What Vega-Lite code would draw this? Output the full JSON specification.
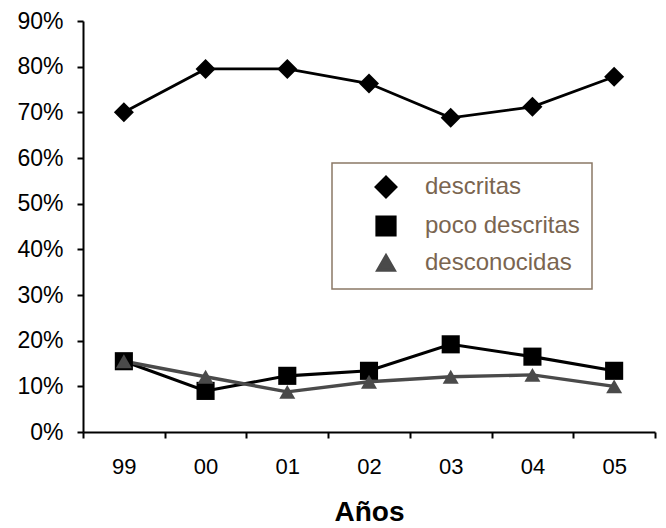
{
  "$schema": "https://vega.github.io/schema/vega-lite/v6.json",
  "width": 572,
  "height": 411,
  "autosize": {"type": "none"},
  "padding": {"left": 83, "top": 21, "right": 11, "bottom": 96},
  "background": "white",
  "config": {"view": {"stroke": null}, "font": "Liberation Sans", "axis": {"grid": false}},
  "data": {
    "values": [
      {"year": "99", "serie": "descritas", "value": 0.70},
      {"year": "00", "serie": "descritas", "value": 0.795},
      {"year": "01", "serie": "descritas", "value": 0.795},
      {"year": "02", "serie": "descritas", "value": 0.763},
      {"year": "03", "serie": "descritas", "value": 0.688},
      {"year": "04", "serie": "descritas", "value": 0.712},
      {"year": "05", "serie": "descritas", "value": 0.778},
      {"year": "99", "serie": "poco descritas", "value": 0.155},
      {"year": "00", "serie": "poco descritas", "value": 0.09},
      {"year": "01", "serie": "poco descritas", "value": 0.123},
      {"year": "02", "serie": "poco descritas", "value": 0.134},
      {"year": "03", "serie": "poco descritas", "value": 0.192},
      {"year": "04", "serie": "poco descritas", "value": 0.165},
      {"year": "05", "serie": "poco descritas", "value": 0.134},
      {"year": "99", "serie": "desconocidas", "value": 0.155},
      {"year": "00", "serie": "desconocidas", "value": 0.121},
      {"year": "01", "serie": "desconocidas", "value": 0.088},
      {"year": "02", "serie": "desconocidas", "value": 0.11},
      {"year": "03", "serie": "desconocidas", "value": 0.121},
      {"year": "04", "serie": "desconocidas", "value": 0.125},
      {"year": "05", "serie": "desconocidas", "value": 0.10}
    ]
  },
  "encoding": {
    "x": {
      "field": "year",
      "type": "ordinal",
      "bandPosition": 0.5,
      "scale": {"type": "band", "domain": ["99", "00", "01", "02", "03", "04", "05"], "paddingInner": 0, "paddingOuter": 0},
      "axis": {
        "title": "Años",
        "titleFontSize": 28,
        "titleFontWeight": "bold",
        "titleColor": "black",
        "titlePadding": 21,
        "labelAngle": 0,
        "labelFontSize": 22,
        "labelColor": "black",
        "labelPadding": 18,
        "tickBand": "extent",
        "tickSize": 6,
        "tickWidth": 2,
        "tickColor": "black",
        "domainWidth": 2,
        "domainColor": "black"
      }
    },
    "y": {
      "field": "value",
      "type": "quantitative",
      "scale": {"domain": [0, 0.9], "nice": false},
      "axis": {
        "title": null,
        "format": ".0%",
        "values": [0, 0.1, 0.2, 0.3, 0.4, 0.5, 0.6, 0.7, 0.8, 0.9],
        "labelFontSize": 23,
        "labelColor": "black",
        "labelPadding": 14,
        "tickSize": 6,
        "tickWidth": 2,
        "tickColor": "black",
        "domainWidth": 2,
        "domainColor": "black"
      }
    },
    "color": {
      "field": "serie",
      "type": "nominal",
      "scale": {"domain": ["descritas", "poco descritas", "desconocidas"], "range": ["#000000", "#000000", "#4a4a4a"]},
      "legend": {
        "orient": "none",
        "legendX": 249,
        "legendY": 142,
        "title": null,
        "padding": 12,
        "strokeColor": "#8b7865",
        "fillColor": "white",
        "labelFontSize": 24,
        "labelColor": "#7a6550",
        "symbolOffset": 30,
        "labelOffset": 27,
        "rowPadding": 7,
        "encode": {
          "legend": {"update": {"strokeWidth": {"value": 1.5}}}
        }
      }
    }
  },
  "layer": [
    {
      "mark": {"type": "line"},
      "encoding": {
        "strokeWidth": {
          "field": "serie",
          "type": "nominal",
          "scale": {"domain": ["descritas", "poco descritas", "desconocidas"], "range": [2.8, 3.4, 2.5]},
          "legend": null
        }
      }
    },
    {
      "mark": {"type": "point", "filled": true, "opacity": 1},
      "encoding": {
        "shape": {
          "field": "serie",
          "type": "nominal",
          "scale": {"domain": ["descritas", "poco descritas", "desconocidas"], "range": ["diamond", "square", "triangle-up"]},
          "legend": null
        },
        "size": {
          "field": "serie",
          "type": "nominal",
          "scale": {"domain": ["descritas", "poco descritas", "desconocidas"], "range": [400, 256, 324]},
          "legend": null
        }
      }
    }
  ]
}
